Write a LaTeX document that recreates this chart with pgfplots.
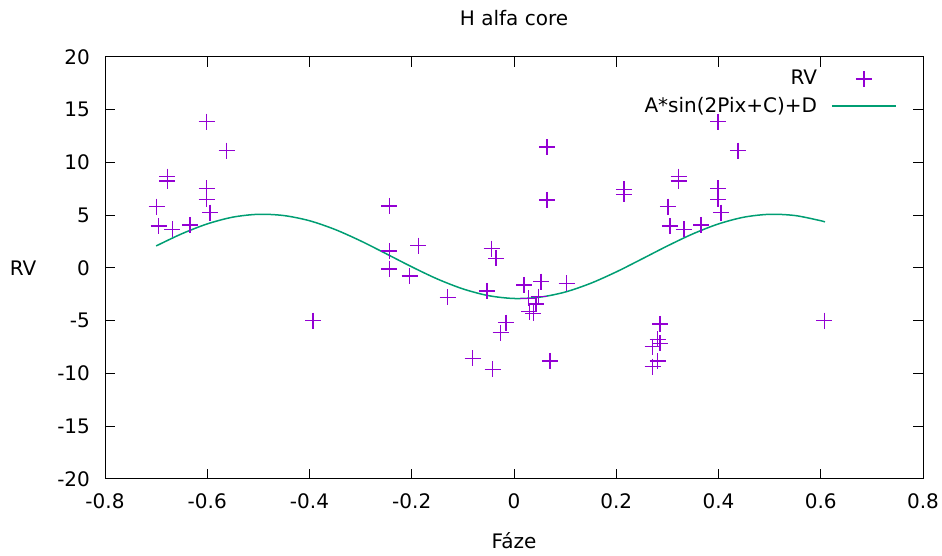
\documentclass[border=0pt]{standalone}
\usepackage{pgfplots}
\pgfplotsset{compat=1.18}
\usepackage{fontspec}
\setmainfont{DejaVu Sans}
\definecolor{rvpurple}{RGB}{148,0,211}
\definecolor{fitgreen}{RGB}{0,158,115}
\pgfplotsset{
  rvleg/.style={legend image code/.code={\path (0pt,0pt) (37pt,0pt); \draw[mark repeat=2,mark phase=2,##1] plot coordinates {(5pt,0pt) (21pt,0pt) (37pt,0pt)};}},
  fitleg/.style={legend image code/.code={\path (0pt,0pt); \draw[##1] (5pt,0pt) -- (37pt,0pt);}},
}
\begin{document}
\fontsize{10pt}{12pt}\selectfont
\begin{tikzpicture}
\useasboundingbox (-52.5pt,-38.5pt) rectangle (418.5pt,239.5pt);
\begin{axis}[
  at={(0,0)}, anchor=south west,
  scale only axis, width=409pt, height=211pt,
  xmin=-0.8, xmax=0.8, ymin=-20, ymax=20,
  xtick={-0.8,-0.6,...,0.81}, ytick={-20,-15,...,20},
  /pgf/number format/assume math mode=true,
  /pgf/number format/fixed,
  tick align=inside, major tick length=5pt,
  tick style={black, line width=0.5pt},
  axis line style={black, line width=0.5pt},
  xticklabel style={anchor=base, yshift=-14.5pt},
  yticklabel style={anchor=east, xshift=-4pt},
  title={H alfa core},
  title style={at={(0.5,1)}, anchor=base, yshift=9.5pt},
  xlabel={Fáze},
  xlabel style={at={(0.5,0)}, anchor=center, yshift=-31pt},
  ylabel={RV},
  ylabel style={at={(0,0.5)}, rotate=-90, anchor=center, xshift=-41pt},
  legend cell align=right,
  legend plot pos=right,
  legend style={draw=none, fill=none, at={(1,1)}, anchor=north east,
    xshift=-10pt, yshift=-2.5pt, row sep=0.5pt, font=\fontsize{10pt}{12pt}\selectfont},
]
\addplot[only marks, mark=+, mark size=4pt, color=rvpurple,
  mark options={draw=rvpurple, solid, line width=0.75pt}, rvleg]
coordinates {
(-0.601,13.87) (-0.562,11.12) (-0.678,8.66) (-0.678,8.25) (-0.601,7.55)
(-0.601,6.50) (-0.699,5.81) (-0.595,5.24) (-0.695,3.98) (-0.668,3.67)
(-0.634,4.08) (-0.393,-4.99) (-0.244,5.90) (-0.244,1.61) (-0.187,2.12)
(-0.244,-0.09) (-0.204,-0.76) (-0.130,-2.78) (-0.053,-2.18) (-0.044,1.83)
(-0.035,0.92) (0.065,11.45) (0.065,6.45) (-0.081,-8.56) (-0.042,-9.60)
(0.070,-8.80) (0.020,-1.61) (0.053,-1.30) (0.103,-1.45) (0.048,-2.72)
(0.028,-2.88) (0.043,-3.41) (0.030,-4.14) (0.038,-4.30) (-0.016,-5.18)
(-0.026,-6.13) (0.215,7.46) (0.215,6.98) (0.399,13.87) (0.438,11.12)
(0.322,8.66) (0.322,8.25) (0.399,7.55) (0.399,6.50) (0.301,5.81)
(0.405,5.24) (0.305,3.98) (0.332,3.67) (0.366,4.08) (0.607,-4.99)
(0.286,-5.30) (0.281,-6.76) (0.286,-7.14) (0.271,-7.46) (0.281,-8.82)
(0.271,-9.36)
};
\addlegendentry{RV}
\addplot[fitgreen, line width=0.75pt, smooth, no marks, fitleg]
coordinates {
(-0.70,2.09) (-0.65,3.24) (-0.60,4.18) (-0.55,4.82) (-0.50,5.09)
(-0.45,4.97) (-0.40,4.48) (-0.35,3.65) (-0.30,2.57) (-0.25,1.35)
(-0.20,0.11) (-0.15,-1.04) (-0.10,-1.98) (-0.05,-2.62) (0.00,-2.89)
(0.05,-2.77) (0.10,-2.28) (0.15,-1.45) (0.20,-0.37) (0.25,0.85)
(0.30,2.09) (0.35,3.24) (0.40,4.18) (0.45,4.82) (0.50,5.09)
(0.55,4.97) (0.60,4.48) (0.608,4.36)
};
\addlegendentry{A*sin(2Pix+C)+D}
\end{axis}
\end{tikzpicture}
\end{document}
